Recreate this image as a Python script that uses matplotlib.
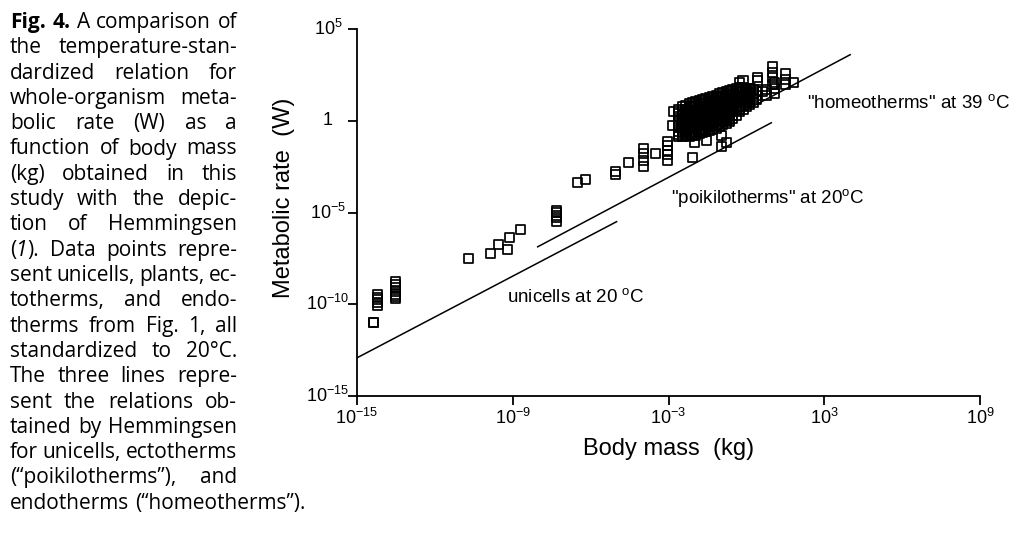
import numpy as np
import matplotlib.pyplot as plt
from matplotlib.ticker import FixedLocator, NullLocator, NullFormatter

plt.rcParams['font.family'] = ['Liberation Sans', 'DejaVu Sans']

# isolated squares as log10 values (mass kg, rate W)
sparse_mass_exp = [-14.38, -14.36,
                   -14.21, -14.21, -14.21, -14.21, -14.21,
                   -13.50, -13.50, -13.50, -13.50, -13.50, -13.50, -13.50,
                   -10.72, -9.84, -9.53, -9.22, -9.11, -8.72,
                   -7.30, -7.30, -7.30, -7.30, -7.30,
                   -6.49, -6.18, -5.06, -5.06, -4.56,
                   -3.98, -3.98, -3.98, -3.98, -3.52,
                   -3.02, -3.02, -3.02, -3.02, -3.02,
                   -2.83, -2.79, -2.06, -2.00, -1.52, -0.94, -0.94, -0.75,
                   -0.25, -0.13, 0.14, 0.41, 0.41, 0.64, 0.79, 0.79,
                   0.99, 0.99, 0.99, 1.02, 1.10, 1.10, 1.10,
                   1.49, 1.49, 1.49, 1.80]
sparse_rate_exp = [-11.02, -10.98,
                   -9.47, -9.62, -9.76, -9.90, -10.05,
                   -8.76, -8.93, -9.10, -9.28, -9.45, -9.60, -9.71,
                   -7.48, -7.26, -6.72, -6.99, -6.34, -5.91,
                   -4.90, -5.02, -5.15, -5.28, -5.50,
                   -3.39, -3.22, -2.78, -2.92, -2.30,
                   -1.49, -1.76, -2.14, -2.52, -1.76,
                   -1.13, -1.35, -1.60, -1.85, -2.17,
                   -0.28, 0.48, -1.98, -1.21, -1.05, -0.78, -1.43, -1.21,
                   2.11, 2.22, 1.78, 2.22, 2.38, 1.57, 1.68, 1.35,
                   2.93, 2.65, 2.38, 1.95, 2.06, 1.78, 1.51,
                   2.60, 2.25, 1.95, 2.11]

# the dense block of squares (endotherms / ectotherms), column by column
cluster_mass_exp = [-2.60, -2.47, -2.34, -2.21, -2.08, -1.95, -1.82, -1.69,
                    -1.56, -1.43, -1.30, -1.17, -1.04, -0.91, -0.78, -0.65,
                    -0.52, -0.39, -0.26, -0.13, 0.00, 0.13, 0.26, 0.39]
cluster_rate_exp = [
    [0.62, 0.41, 0.22, 0.03, -0.18, -0.37, -0.58, -0.77, -0.86],
    [0.75, 0.52, 0.33, 0.12, -0.08, -0.27, -0.48, -0.66, -0.85],
    [0.82, 0.63, 0.42, 0.21, 0.02, -0.19, -0.39, -0.58, -0.79],
    [0.92, 0.71, 0.50, 0.31, 0.11, -0.10, -0.29, -0.50, -0.69, -0.86],
    [0.98, 0.79, 0.58, 0.39, 0.18, -0.01, -0.22, -0.41, -0.62, -0.82],
    [1.03, 0.84, 0.63, 0.44, 0.25, 0.04, -0.15, -0.36, -0.57, -0.78],
    [1.09, 0.90, 0.71, 0.50, 0.31, 0.10, -0.09, -0.30, -0.51, -0.72],
    [1.15, 0.94, 0.75, 0.56, 0.35, 0.16, -0.05, -0.24, -0.45, -0.66],
    [1.20, 1.01, 0.80, 0.61, 0.42, 0.21, 0.02, -0.19, -0.40, -0.60],
    [1.26, 1.07, 0.86, 0.67, 0.46, 0.27, 0.06, -0.13, -0.34, -0.54],
    [1.33, 1.12, 0.93, 0.72, 0.53, 0.32, 0.13, -0.08, -0.27, -0.47],
    [1.40, 1.19, 1.00, 0.79, 0.60, 0.39, 0.20, -0.01, -0.20, -0.40],
    [1.48, 1.27, 1.08, 0.87, 0.68, 0.47, 0.28, 0.07, -0.12, -0.32],
    [1.53, 1.34, 1.13, 0.94, 0.73, 0.54, 0.33, 0.14, -0.05, -0.22],
    [1.58, 1.39, 1.18, 0.99, 0.78, 0.59, 0.38, 0.19, 0.00, -0.13],
    [1.64, 1.43, 1.24, 1.03, 0.84, 0.63, 0.44, 0.23, 0.06, -0.04],
    [1.70, 1.49, 1.30, 1.09, 0.90, 0.69, 0.50, 0.31, 0.12],
    [1.75, 1.54, 1.35, 1.14, 0.95, 0.74, 0.55, 0.30],
    [1.80, 1.59, 1.40, 1.19, 1.00, 0.79, 0.62, 0.48],
    [1.80, 1.61, 1.42, 1.21, 1.02, 0.81, 0.62],
    [1.78, 1.57, 1.38, 1.17, 0.98, 0.76],
    [1.76, 1.55, 1.34, 1.13, 0.88],
    [1.70, 1.49, 1.28, 1.00],
    [1.62, 1.40, 1.15],
]

# Hemmingsen lines (end points, log10)
unicell_mass_exp = [-15.0, -5.0]
unicell_rate_exp = [-12.92, -5.50]
poikilo_mass_exp = [-8.04, 0.96]
poikilo_rate_exp = [-6.87, -0.11]
homeo_mass_exp = [-1.5, 4.0]
homeo_rate_exp = [-0.53, 3.60]

xtick_vals = [1e-15, 1e-9, 1e-3, 1e3, 1e9]
xtick_labels = [r'$\mathregular{10^{-15}}$', r'$\mathregular{10^{-9}}$',
                r'$\mathregular{10^{-3}}$', r'$\mathregular{10^{3}}$',
                r'$\mathregular{10^{9}}$']
ytick_vals = [1e-15, 1e-10, 1e-5, 1, 1e5]
ytick_labels = [r'$\mathregular{10^{-15}}$', r'$\mathregular{10^{-10}}$',
                r'$\mathregular{10^{-5}}$', '1', r'$\mathregular{10^{5}}$']

caption_lines = [
    "Fig. 4. A comparison of",
    "the temperature-stan-",
    "dardized relation for",
    "whole-organism meta-",
    "bolic rate (W) as a",
    "function of body mass",
    "(kg) obtained in this",
    "study with the depic-",
    "tion of Hemmingsen",
    "(1). Data points repre-",
    "sent unicells, plants, ec-",
    "totherms, and endo-",
    "therms from Fig. 1, all",
    "standardized to 20°C.",
    "The three lines repre-",
    "sent the relations ob-",
    "tained by Hemmingsen",
    "for unicells, ectotherms",
    "(\u201cpoikilotherms\u201d), and",
    "endotherms (\u201chomeotherms\u201d).",
]

fig = plt.figure(figsize=(10.24, 5.4), dpi=100)
renderer = fig.canvas.get_renderer()

# ---- caption, justified word by word ----
cap_font = ['Open Sans', 'DejaVu Sans']


def runs_for(word, first_line):
    if first_line and word in ("Fig.", "4."):
        return [(word, 'bold', 'normal')]
    if word == "(1).":
        return [("(", 'normal', 'normal'), ("1", 'normal', 'italic'),
                (").", 'normal', 'normal')]
    return [(word, 'normal', 'normal')]


def text_w(s, size, weight='normal', style='normal'):
    t = fig.text(0, 0, s, fontsize=size, family=cap_font,
                 fontweight=weight, fontstyle=style)
    w = t.get_window_extent(renderer).width
    t.remove()
    return w


# pick a size so the last (unjustified) line is as wide as in the figure
w10 = text_w(caption_lines[-1], 10)
cap_size = 10 * 296 / w10
space_w = text_w("x x", cap_size) - text_w("xx", cap_size)

left_px, right_px = 10, 237
for i, line in enumerate(caption_lines):
    words = line.split()
    pieces = [runs_for(w, i == 0) for w in words]
    widths = [[text_w(r[0], cap_size, r[1], r[2]) for r in p] for p in pieces]
    total = sum(sum(w) for w in widths)
    if i < len(caption_lines) - 1 and len(words) > 1:
        gap = (right_px - left_px - total) / (len(words) - 1)
    else:
        gap = space_w
    x = left_px
    y = 1 - (28 + i * 25.3) / 540
    for p, ws in zip(pieces, widths):
        for (s, wt, st), w in zip(p, ws):
            fig.text(x / 1024, y, s, fontsize=cap_size, family=cap_font,
                     fontweight=wt, fontstyle=st, va='baseline', ha='left')
            x += w
        x += gap

# ---- the plot ----
ax = fig.add_axes([357 / 1024, 1 - 396 / 540, 623 / 1024, 367 / 540])
ax.set_xscale('log')
ax.set_yscale('log')

for mx, my in [(unicell_mass_exp, unicell_rate_exp),
               (poikilo_mass_exp, poikilo_rate_exp),
               (homeo_mass_exp, homeo_rate_exp)]:
    ax.plot(np.power(10.0, mx), np.power(10.0, my), color='black', lw=1.1)

cm = []
cr = []
for m, rates in zip(cluster_mass_exp, cluster_rate_exp):
    for r in rates:
        cm.append(m)
        cr.append(r)
all_m = np.power(10.0, np.array(sparse_mass_exp + cm))
all_r = np.power(10.0, np.array(sparse_rate_exp + cr))
ax.scatter(all_m, all_r, marker='s', s=42, facecolors='none',
           edgecolors='black', linewidths=1.25, zorder=3)

ax.set_xlim(1e-15, 1e9)
ax.set_ylim(1e-15, 1e5)
ax.spines[['top', 'right']].set_visible(False)
for sp in ['left', 'bottom']:
    ax.spines[sp].set_linewidth(1.3)

ax.xaxis.set_major_locator(FixedLocator(xtick_vals))
ax.xaxis.set_minor_locator(NullLocator())
ax.set_xticklabels(xtick_labels)
ax.yaxis.set_major_locator(FixedLocator(ytick_vals))
ax.yaxis.set_minor_locator(NullLocator())
ax.yaxis.set_major_formatter(NullFormatter())
ax.tick_params(axis='both', direction='out', length=6.5, width=1.3,
               labelsize=13)
ax.tick_params(axis='x', pad=2)

# y tick labels are centred on a common column in the original
ytrans = ax.get_yaxis_transform()
for v, lab in zip(ytick_vals, ytick_labels):
    ax.text(-29 / 623, v, lab, transform=ytrans, fontsize=13,
            ha='center', va='center', clip_on=False)

ax.set_xlabel('Body mass  (kg)', fontsize=17)
ax.xaxis.set_label_coords(0.5, -0.114)
ax.set_ylabel('Metabolic rate  (W)', fontsize=17)
ax.yaxis.set_label_coords(-0.1, 0.5395)

ax.text(10 ** 2.33, 10 ** 0.69, r'"homeotherms" at 39 $\mathregular{^o}$C',
        fontsize=13.5, va='baseline', ha='left')
ax.text(10 ** -2.90, 10 ** -4.48, r'"poikilotherms" at 20$\mathregular{^o}$C',
        fontsize=13.5, va='baseline', ha='left')
ax.text(10 ** -9.22, 10 ** -9.88, r'unicells at 20 $\mathregular{^o}$C',
        fontsize=13.5, va='baseline', ha='left')

fig.savefig('out.png', dpi=100)
